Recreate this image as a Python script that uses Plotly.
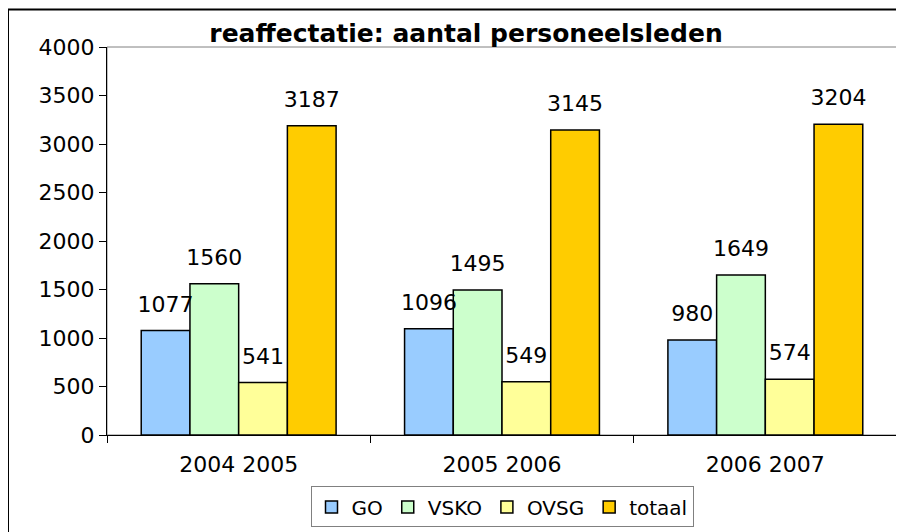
import plotly.graph_objects as go

FONT = "DejaVu Sans"

years = ["2004 2005", "2005 2006", "2006 2007"]
series_names = ["GO", "VSKO", "OVSG", "totaal"]
go_vals = [1077, 1096, 980]
vsko_vals = [1560, 1495, 1649]
ovsg_vals = [541, 549, 574]
totaal_vals = [3187, 3145, 3204]
colors = ["#99CCFF", "#CCFFCC", "#FFFF99", "#FFCC00"]

all_vals = [go_vals, vsko_vals, ovsg_vals, totaal_vals]

# the page body adds an 8px offset, so pixel targets are shifted by it
OFF = 8
L, R, T, B = 107 - OFF, 897 - OFF, 47 - OFF, 439 - OFF
W, H = 904, 532
PW, PH = R - L, B - T

fig = go.Figure()
for name, vals, col in zip(series_names, all_vals, colors):
    fig.add_trace(go.Bar(
        x=years, y=vals, name=name, offsetgroup=name,
        marker=dict(color=col, line=dict(color="black", width=1.5)),
    ))

# data labels, grouped to line up with the bars
for name, vals in zip(series_names, all_vals):
    fig.add_trace(go.Scatter(
        x=years, y=vals, mode="markers+text", offsetgroup=name,
        text=[str(v) for v in vals], textposition="top center",
        textfont=dict(family=FONT, size=22, color="black"),
        marker=dict(size=20, opacity=0), showlegend=False, hoverinfo="skip",
    ))

fig.update_layout(
    width=W, height=H,
    margin=dict(l=L, r=W - R, t=T, b=H - B),
    paper_bgcolor="white", plot_bgcolor="white",
    font=dict(family=FONT, size=22, color="black"),
    barmode="group", scattermode="group", bargap=0.26, bargroupgap=0,
    title=dict(text="<b>reaffectatie: aantal personeelsleden</b>",
               x=(466 - OFF) / W, xanchor="center", xref="container",
               y=1 - (33 - OFF) / H, yanchor="middle",
               font=dict(family=FONT, size=25, color="black")),
    legend=dict(orientation="h", x=0.5, xanchor="center",
                y=(B - (491 - OFF)) / PH, yanchor="top",
                bgcolor="white", bordercolor="#808080", borderwidth=1,
                font=dict(family=FONT, size=20, color="black"),
                itemwidth=30, tracegroupgap=0),
    showlegend=True,
)

fig.update_xaxes(
    showline=True, linecolor="black", linewidth=1,
    ticks="outside", tickson="boundaries", ticklen=7, tickcolor="black",
    showgrid=False, zeroline=False, ticklabelstandoff=10,
)
fig.update_yaxes(
    range=[0, 4000], dtick=500, showline=True, linecolor="black", linewidth=1,
    ticks="outside", ticklen=7, tickcolor="black",
    showgrid=False, zeroline=False,
)

# plot area frame (gray) and outer chart border (black)
fig.add_shape(type="rect", xref="paper", yref="paper", x0=0, y0=0, x1=1, y1=1,
              line=dict(color="#808080", width=1), layer="below")
fig.add_shape(type="rect", xref="paper", yref="paper",
              x0=(8 - OFF - L) / PW, y0=(B - 560) / PH,
              x1=(940 - L) / PW, y1=(B - (9 - OFF)) / PH,
              line=dict(color="black", width=2), layer="below")

fig.write_html("out.html")
